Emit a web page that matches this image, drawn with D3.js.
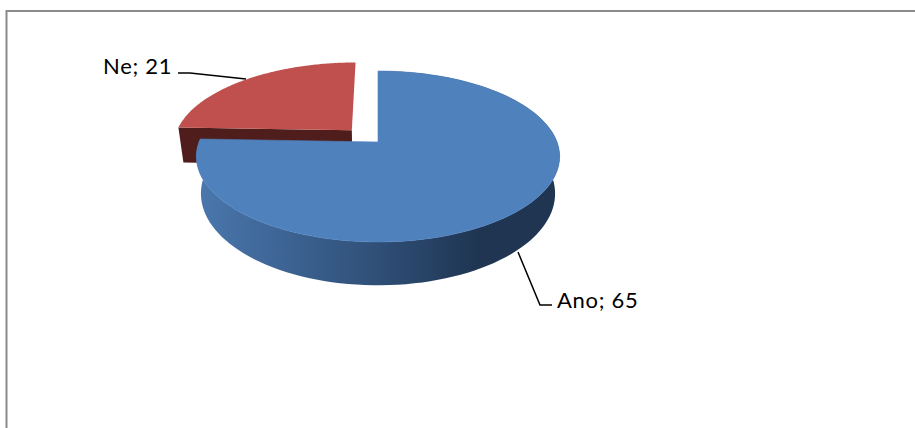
<!DOCTYPE html>
<html>
<head>
<meta charset="utf-8">
<script src="https://cdn.jsdelivr.net/npm/d3@7"></script>
<style>
  html, body { margin: 0; padding: 0; background: #fff; }
  svg { display: block; }
  text { font-family: Lato, "Noto Sans", sans-serif; font-size: 22px; letter-spacing: 0.7px; fill: #000; }
</style>
</head>
<body>
<div id="graf"></div>
<script>
const categories = ["Ano", "Ne"]
const values = [65, 21]
const topColors = ["#4f81bd", "#c0504d"]

const ancho = 915
const alto = 428

// perspective of the pie plane
const tilt = 0.1696
const explode = 0.2
const depth = 36
const lowShrink = 0.975

const px = d3.scaleLinear().domain([-1, 1]).range([378 - 179, 378 + 179])
const py = d3.scaleLinear().domain([-1, 1]).range([142 + 83, 142 - 83])

const project = (X, Y, z = 0) => {
  const w = 1 + tilt * Y
  const k = 1 - z * (1 - lowShrink)
  return [px(k * X / w), py(Y / w) + z * depth / w]
}

const pie = d3.pie().sort(null).value(d => d)
const slices = pie(values)
const line = d3.line()

const svg = d3.select("#graf")
  .append("svg")
  .attr("width", ancho)
  .attr("height", alto)

const defs = svg.append("defs")
const grad = defs.append("linearGradient")
  .attr("id", "lado")
  .attr("gradientUnits", "userSpaceOnUse")
  .attr("x1", px(-1)).attr("x2", px(1)).attr("y1", 0).attr("y2", 0)
grad.selectAll("stop")
  .data([[0, "#4a77ad"], [0.5, "#2f4f77"], [0.78, "#1f3552"], [1, "#1f3552"]])
  .enter()
  .append("stop")
  .attr("offset", d => d[0])
  .attr("stop-color", d => d[1])

// chart frame, the right side is cut off in the original
svg.append("path")
  .attr("d", `M6.5,${alto}V11H${ancho}`)
  .attr("fill", "none")
  .attr("stroke", "#8a8a8a")
  .attr("stroke-width", 2)

// slice centre in plane units, shifted along its bisector when exploded
const centre = (s, d) => {
  const mid = (s.startAngle + s.endAngle) / 2
  return [Math.sin(mid) * d - 0.011, Math.cos(mid) * d]
}
const rim = (s, off, z = 0) =>
  d3.range(0, 121).map(i => {
    const a = s.startAngle + (s.endAngle - s.startAngle) * i / 120
    return project(off[0] + Math.sin(a), off[1] + Math.cos(a), z)
  })

const [ano, ne] = slices
const neOff = centre(ne, explode)
const anoOff = [0, 0]

// red cut face, mostly hidden by the blue slice
const neApex = project(neOff[0], neOff[1])
const neEdge = project(neOff[0] + Math.sin(ne.startAngle), neOff[1] + Math.cos(ne.startAngle))
const neApexLow = project(neOff[0], neOff[1], 1)
const neEdgeLow = project(neOff[0] + Math.sin(ne.startAngle), neOff[1] + Math.cos(ne.startAngle), 1)
svg.append("path")
  .attr("d", line([neApex, neEdge, neEdgeLow, neApexLow]) + "Z")
  .attr("fill", "#4f1e1c")

// red top
svg.append("path")
  .attr("d", line([neApex, ...rim(ne, neOff)]) + "Z")
  .attr("fill", topColors[1])

// blue wall
svg.append("path")
  .attr("d", line([...rim(ano, anoOff), ...rim(ano, anoOff, 1).reverse()]) + "Z")
  .attr("fill", "url(#lado)")

// blue top
svg.append("path")
  .attr("d", line([project(0, 0), ...rim(ano, anoOff)]) + "Z")
  .attr("fill", topColors[0])
  .attr("stroke", topColors[0])
  .attr("stroke-width", 0.6)

// leaders and labels
const labels = [
  { i: 1, x: 103, y: 74, leader: [[178, 73], [190, 73], [246, 79]] },
  { i: 0, x: 557, y: 308, leader: [[518, 252], [540, 305], [552, 305]] }
]

svg.selectAll("path.leader")
  .data(labels)
  .enter()
  .append("path")
  .attr("class", "leader")
  .attr("d", d => line(d.leader))
  .attr("fill", "none")
  .attr("stroke", "#000")
  .attr("stroke-width", 1.5)

svg.selectAll("text.etiqueta")
  .data(labels)
  .enter()
  .append("text")
  .attr("class", "etiqueta")
  .attr("x", d => d.x)
  .attr("y", d => d.y)
  .text(d => `${categories[d.i]}; ${values[d.i]}`)
</script>
</body>
</html>
